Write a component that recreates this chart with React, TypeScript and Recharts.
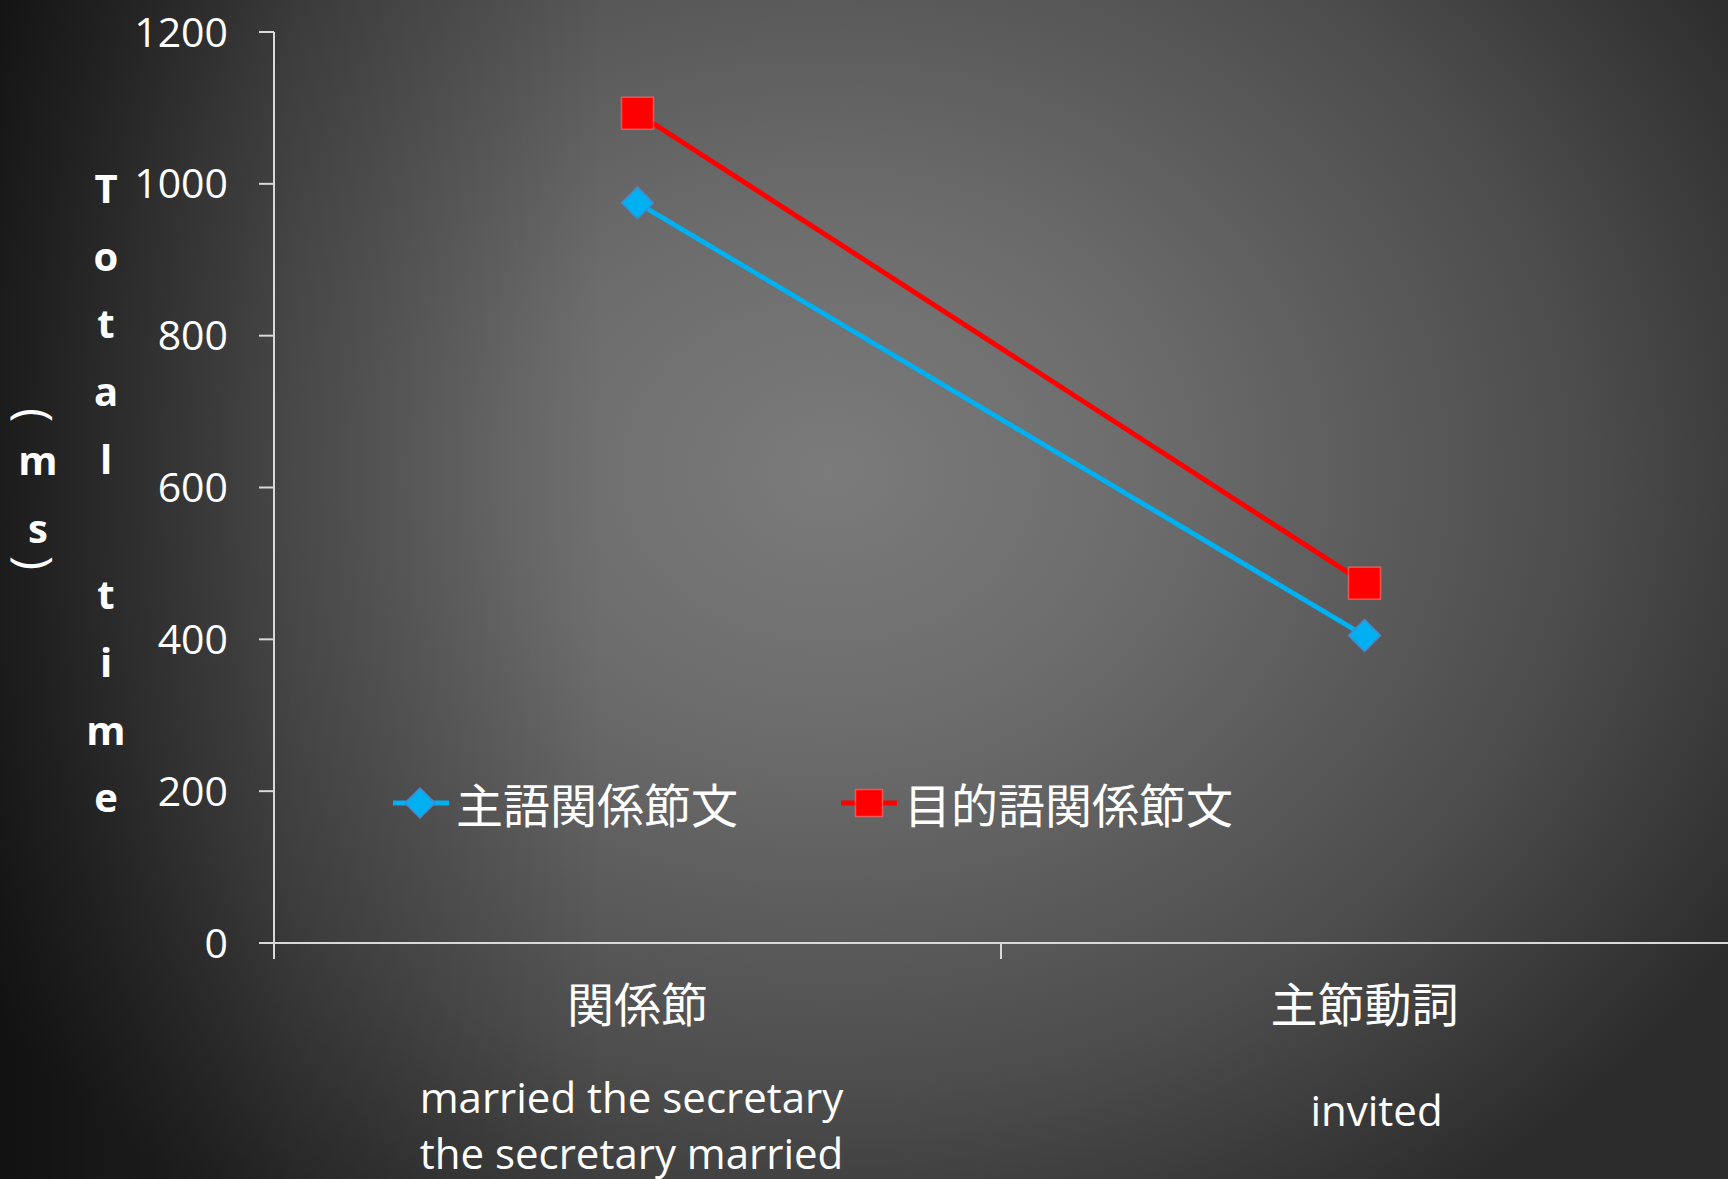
import React from 'react';
import { LineChart, Line, XAxis, YAxis, Legend } from 'recharts';

// reading time per region, estimated from the slide
const categories = ['関係節', '主節動詞'];
const subLabels = [['married the secretary', 'the secretary married'], ['invited']];
const subjectRelative = [975, 405];
const objectRelative = [1093, 474];
const seriesNames = ['主語関係節文', '目的語関係節文'];
const yTicks = [0, 200, 400, 600, 800, 1000, 1200];
const yTitle = 'Total time';
const yUnit = '(ms)';

const BLUE = '#00b0f0';
const RED = '#ff0000';
const AXIS = '#d9d9d9';
const CJK = '"Noto Sans CJK JP", "Noto Sans CJK SC", sans-serif';
const LATIN = '"Open Sans", "Noto Sans", sans-serif';

const data = categories.map((name, i) => ({
  name,
  subj: subjectRelative[i],
  obj: objectRelative[i],
}));

// small nudges for the free text boxes under each category
const subDx = [-6, 12];
const subDy = [170, 183];

function CategoryTick(props: any) {
  const { x, y, payload, index } = props;
  const half = payload?.offset ?? 363.5;
  const lines = subLabels[index] || [];
  return (
    <g>
      <line x1={x - half} x2={x - half} y1={y} y2={y + 16} stroke={AXIS} strokeWidth={2} />
      <text x={x} y={y + 79} textAnchor="middle" fill="#fff" fontSize={47} fontFamily={CJK}>
        {payload.value}
      </text>
      {lines.map((t, i) => (
        <text
          key={i}
          x={x + subDx[index]}
          y={y + subDy[index] + i * 56}
          textAnchor="middle"
          fill="#fff"
          fontSize={42}
          fontFamily={LATIN}
        >
          {t}
        </text>
      ))}
    </g>
  );
}

function Diamond(props: any) {
  const { cx, cy, size = 16 } = props;
  if (cx == null || cy == null) return null;
  const r = size;
  return (
    <polygon
      points={`${cx},${cy - r} ${cx + r},${cy} ${cx},${cy + r} ${cx - r},${cy}`}
      fill={BLUE}
      stroke="#4a86c8"
      strokeWidth={1.5}
    />
  );
}

function Square(props: any) {
  const { cx, cy, size = 16 } = props;
  if (cx == null || cy == null) return null;
  const r = size;
  return (
    <rect
      x={cx - r}
      y={cy - r}
      width={r * 2}
      height={r * 2}
      fill={RED}
      stroke="#ff6a6a"
      strokeOpacity={0.7}
      strokeWidth={1.5}
    />
  );
}

function YTitle(props: any) {
  const vb = props.viewBox || { x: 0, y: 32 };
  const top = vb.y + 171;
  const ux = vb.x + 36;
  return (
    <g fill="#fff" fontFamily={LATIN} fontWeight="bold">
      {yTitle.split('').map((ch, i) =>
        ch === ' ' ? null : (
          <text key={i} x={vb.x + 106} y={top + i * 67.7} textAnchor="middle" fontSize={40}>
            {ch}
          </text>
        )
      )}
      {/* unit column, parentheses turned sideways */}
      <text
        x={ux}
        y={vb.y + 383}
        textAnchor="middle"
        dominantBaseline="central"
        fontSize={48}
        fontWeight="normal"
        transform={`rotate(90 ${ux} ${vb.y + 383})`}
      >
        {yUnit[0]}
      </text>
      <text x={vb.x + 38} y={vb.y + 443} textAnchor="middle" fontSize={40}>
        {yUnit[1]}
      </text>
      <text x={vb.x + 38} y={vb.y + 511} textAnchor="middle" fontSize={40}>
        {yUnit[2]}
      </text>
      <text
        x={ux}
        y={vb.y + 531}
        textAnchor="middle"
        dominantBaseline="central"
        fontSize={48}
        fontWeight="normal"
        transform={`rotate(90 ${ux} ${vb.y + 531})`}
      >
        {yUnit[3]}
      </text>
    </g>
  );
}

function LegendContent(props: any) {
  const items = props.payload || [];
  return (
    <div style={{ display: 'flex', alignItems: 'center', height: 60 }}>
      {items.map((p: any, i: number) => (
        <div
          key={i}
          style={{ display: 'flex', alignItems: 'center', marginRight: i === 0 ? 103 : 0 }}
        >
          <svg width={56} height={34} style={{ display: 'block' }}>
            <line x1={0} x2={56} y1={17} y2={17} stroke={p.color} strokeWidth={5} />
            {p.dataKey === 'subj' ? (
              <Diamond cx={27} cy={17} size={15} />
            ) : (
              <Square cx={28} cy={17} size={13.5} />
            )}
          </svg>
          <span
            style={{
              marginLeft: 7,
              fontSize: 47,
              lineHeight: '60px',
              color: '#fff',
              fontFamily: CJK,
              whiteSpace: 'nowrap',
            }}
          >
            {p.value}
          </span>
        </div>
      ))}
    </div>
  );
}

export default function App() {
  return (
    <div
      style={{
        position: 'absolute',
        left: 0,
        top: 0,
        width: 1728,
        height: 1179,
        overflow: 'hidden',
        background:
          'linear-gradient(to right, rgba(0,0,0,0.6) 0%, rgba(0,0,0,0.22) 17%, rgba(0,0,0,0) 35%), ' +
          'radial-gradient(ellipse 62% 75% at 48% 40%, #7b7b7b 0%, #6c6c6c 30%, #4d4d4d 70%, #2c2c2c 100%)',
      }}
    >
      <LineChart
        width={1728}
        height={1179}
        data={data}
        margin={{ top: 32, right: 0, bottom: 0, left: 0 }}
      >
        <XAxis
          dataKey="name"
          scale="band"
          height={236}
          interval={0}
          tickSize={0}
          tickMargin={0}
          tickLine={false}
          axisLine={{ stroke: AXIS, strokeWidth: 2 }}
          tick={<CategoryTick />}
        />
        <YAxis
          domain={[0, 1200]}
          ticks={yTicks}
          interval={0}
          width={274}
          tickSize={15}
          tickMargin={31}
          axisLine={{ stroke: AXIS, strokeWidth: 2 }}
          tickLine={{ stroke: AXIS, strokeWidth: 2 }}
          tick={{ fill: '#fff', fontSize: 41, fontFamily: LATIN }}
          label={{ content: <YTitle /> }}
        />
        <Legend
          verticalAlign="middle"
          align="center"
          content={<LegendContent />}
          wrapperStyle={{ left: 393, top: 773, width: 'auto' }}
        />
        <Line
          dataKey="subj"
          name={seriesNames[0]}
          stroke={BLUE}
          strokeWidth={5}
          dot={<Diamond />}
          activeDot={false}
          isAnimationActive={false}
        />
        <Line
          dataKey="obj"
          name={seriesNames[1]}
          stroke={RED}
          strokeWidth={5}
          dot={<Square />}
          activeDot={false}
          isAnimationActive={false}
        />
      </LineChart>
    </div>
  );
}
